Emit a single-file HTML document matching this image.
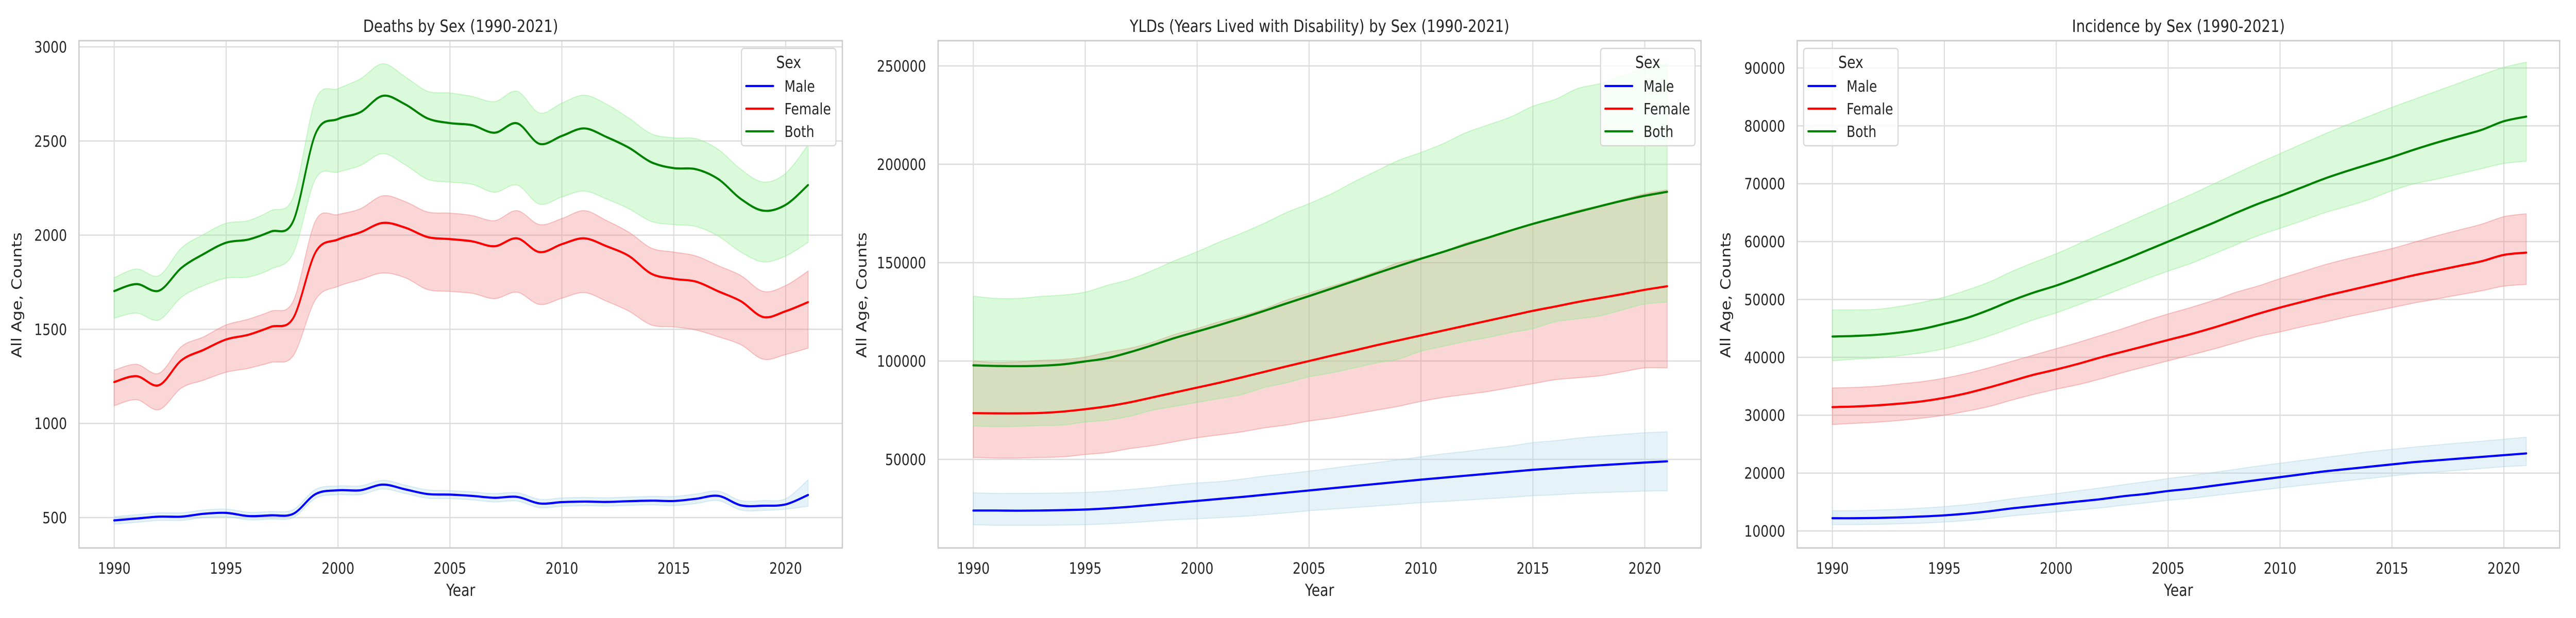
<!DOCTYPE html>
<html><head><meta charset="utf-8"><style>
html,body{margin:0;padding:0;background:#fff;width:100%;height:100%;overflow:hidden;}
svg{display:block;width:100vw;height:100vh;font-family:"DejaVu Sans","Liberation Sans",sans-serif;}
</style></head><body>
<svg id="chart" viewBox="0 0 6000 1200" preserveAspectRatio="none" xmlns="http://www.w3.org/2000/svg"></svg>
<script>
const years = [1990,1991,1992,1993,1994,1995,1996,1997,1998,1999,2000,2001,2002,2003,2004,2005,2006,2007,2008,2009,2010,2011,2012,2013,2014,2015,2016,2017,2018,2019,2020,2021];
const xTicks = [1990,1995,2000,2005,2010,2015,2020];
const seriesNames = ["Male","Female","Both"];

// Deaths
const deathsYTicks = [500,1000,1500,2000,2500,3000];
const deathsMale = [485,495,505,505,520,525,508,512,520,625,645,645,675,650,625,622,615,605,610,575,582,585,583,587,590,588,600,615,565,563,570,620];
const deathsMaleUp = [505,515,525,525,540,545,528,532,542,650,668,668,698,672,647,643,636,627,632,597,604,607,605,609,612,612,625,640,590,590,600,700];
const deathsMaleLo = [465,475,485,485,500,505,488,492,500,603,622,622,652,628,603,601,594,583,588,553,560,563,561,565,568,564,575,590,540,538,545,560];
const deathsFemale = [1220,1251,1203,1335,1391,1446,1471,1513,1560,1910,1977,2015,2065,2040,1990,1979,1967,1941,1983,1910,1952,1983,1941,1889,1795,1768,1753,1701,1649,1565,1596,1644];
const deathsFemaleUp = [1283,1314,1266,1408,1460,1523,1554,1596,1650,2077,2109,2140,2209,2178,2123,2117,2104,2077,2130,2056,2088,2130,2077,2015,1931,1910,1889,1837,1785,1701,1732,1809];
const deathsFemaleLo = [1094,1126,1073,1188,1230,1272,1293,1324,1360,1659,1728,1764,1799,1774,1711,1701,1691,1663,1697,1632,1665,1695,1649,1596,1523,1513,1496,1460,1418,1341,1366,1400];
const deathsBoth = [1703,1740,1705,1826,1900,1960,1977,2019,2075,2540,2617,2653,2740,2695,2620,2595,2584,2544,2594,2485,2527,2567,2521,2464,2387,2356,2350,2297,2192,2130,2161,2266];
const deathsBothUp = [1774,1820,1785,1931,2004,2063,2077,2130,2203,2720,2778,2830,2910,2841,2764,2755,2736,2709,2764,2649,2701,2743,2695,2621,2538,2517,2512,2454,2349,2282,2328,2479];
const deathsBothLo = [1559,1586,1550,1670,1732,1772,1778,1820,1905,2300,2335,2370,2433,2374,2297,2282,2270,2228,2266,2165,2203,2234,2192,2140,2073,2056,2046,1994,1910,1858,1889,1962];

// YLDs
const yldYTicks = [50000,100000,150000,200000,250000];
const yldMale = [24000,24000,23900,24000,24200,24500,25100,25900,26900,27900,28900,29900,30900,32000,33100,34200,35300,36400,37500,38600,39700,40700,41700,42700,43700,44700,45500,46300,47000,47700,48400,49000];
const yldMaleUp = [33000,32700,32700,32800,32900,33200,33800,34700,35700,37000,38000,38700,40000,41500,42700,44000,45500,47000,48300,49800,51300,52800,54000,55500,56800,58500,59500,60800,61800,62700,63500,64000];
const yldMaleLo = [16800,16500,16500,16500,16600,16800,17200,17800,18600,19300,19800,20400,21000,21900,22800,23900,24700,25500,26300,27100,28000,28600,29300,30000,30700,31500,32000,32700,33100,33500,33900,34000];
const yldFemale = [73500,73400,73400,73600,74300,75500,77000,79000,81500,84000,86500,89000,91700,94500,97300,100000,102700,105300,108000,110500,113000,115500,118000,120500,123000,125500,127700,130000,132000,134000,136200,138000];
const yldFemaleUp = [100000,99200,99500,100300,100800,102000,104500,106500,109500,113500,116500,120000,123000,126500,131000,134500,138000,141500,145500,150000,152500,155500,160000,163000,166500,170000,173000,176500,179000,182000,185000,187000];
const yldFemaleLo = [51000,50700,50700,51000,51300,52500,53500,55500,57000,59000,61000,62500,64000,66000,67500,69500,71000,73000,75000,77000,79500,81500,83000,84500,86500,88500,90500,91500,92500,94500,96500,96500];
const yldBoth = [97800,97500,97400,97600,98300,99800,101500,104500,108000,111700,115000,118300,121800,125500,129300,133000,136800,140600,144500,148300,152000,155500,159200,162700,166300,169700,172800,175800,178700,181500,184000,186000];
const yldBothUp = [133000,131800,131800,132800,133500,135000,138500,141500,146000,151000,155500,160500,165000,170000,175500,180000,185000,191000,196500,202000,206000,210500,216000,220000,224000,229500,233000,238500,241000,245000,248500,251000];
const yldBothLo = [67000,66700,66800,67200,67500,69000,70000,72000,75000,77000,79000,81000,83000,86500,89000,92000,94000,96500,99000,101000,105000,107500,110000,112000,114500,116500,120000,121500,123000,126000,129000,130000];

// Incidence
const incYTicks = [10000,20000,30000,40000,50000,60000,70000,80000,90000];
const incMale = [12200,12200,12250,12350,12500,12700,13000,13400,13900,14300,14700,15100,15500,16000,16400,16900,17300,17800,18300,18800,19300,19800,20300,20700,21100,21500,21900,22200,22500,22800,23100,23400];
const incMaleUp = [13500,13500,13600,13750,13950,14200,14550,15000,15550,16000,16450,16950,17450,18000,18500,19050,19550,20100,20650,21200,21700,22200,22700,23200,23700,24100,24500,24850,25200,25500,25850,26200];
const incMaleLo = [11100,11100,11150,11250,11350,11550,11800,12150,12600,12950,13300,13650,14000,14450,14850,15300,15650,16100,16550,17000,17450,17900,18300,18700,19100,19500,19900,20200,20500,20800,21100,21300];
const incFemale = [31400,31500,31700,32000,32400,33000,33800,34800,35900,37000,37900,38900,40000,41000,42000,43000,44000,45100,46300,47500,48600,49600,50600,51500,52400,53300,54200,55000,55800,56600,57700,58100];
const incFemaleUp = [34700,34800,35000,35400,35800,36400,37200,38200,39300,40400,41500,42600,43800,45000,46300,47500,48600,49800,51200,52300,53600,54800,56000,57000,57900,58800,59900,61000,62000,63000,64300,64800];
const incFemaleLo = [28400,28600,28800,29100,29500,30000,30700,31500,32600,33600,34500,35300,36300,37400,38400,39400,40400,41400,42500,43600,44400,45300,46100,47000,47800,48600,49400,50100,50800,51500,52300,52600];
const incBoth = [43600,43700,43900,44300,44900,45800,46800,48200,49800,51200,52400,53800,55300,56800,58400,60000,61600,63200,64900,66500,67900,69400,70900,72200,73400,74600,75900,77100,78200,79300,80800,81600];
const incBothUp = [48200,48200,48300,48800,49500,50400,51600,53000,54800,56400,57900,59600,61300,63000,64700,66400,68100,69900,71700,73500,75200,76900,78600,80200,81700,83200,84600,86000,87400,88800,90100,91000];
const incBothLo = [39400,39700,39900,40300,40800,41500,42500,43700,45100,46500,47700,49100,50500,52000,53500,54900,56200,57800,59400,61000,62300,63600,65000,66100,67300,68800,70000,70800,71700,72600,73500,73900];

const NS = "http://www.w3.org/2000/svg";
const svg = document.getElementById("chart");
function mk(tag, attrs, parent) {
  const e = document.createElementNS(NS, tag);
  for (const k in attrs) e.setAttribute(k, attrs[k]);
  (parent || svg).appendChild(e);
  return e;
}
function curveSegs(pts) {
  let d = "";
  for (let i = 0; i < pts.length - 1; i++) {
    const p0 = pts[Math.max(0, i - 1)], p1 = pts[i], p2 = pts[i + 1], p3 = pts[Math.min(pts.length - 1, i + 2)];
    const c1x = p1[0] + (p2[0] - p0[0]) / 6, c1y = p1[1] + (p2[1] - p0[1]) / 6;
    const c2x = p2[0] - (p3[0] - p1[0]) / 6, c2y = p2[1] - (p3[1] - p1[1]) / 6;
    d += "C" + c1x.toFixed(2) + "," + c1y.toFixed(2) + " " + c2x.toFixed(2) + "," + c2y.toFixed(2) + " " + p2[0].toFixed(2) + "," + p2[1].toFixed(2);
  }
  return d;
}
function smooth(pts) {
  return "M" + pts[0][0].toFixed(2) + "," + pts[0][1].toFixed(2) + curveSegs(pts);
}
const lineColors = ["#0000ff", "#ff0000", "#008000"];
const fillColors = ["#add8e6", "#f08080", "#90ee90"];

function panel(p) {
  const g = mk("g", {});
  
  
  const X = v => p.x0 + (v - 1990) * (p.x1 - p.x0) / 30;
  const Y = v => p.yA + (v - p.vA) * (p.yB - p.yA) / (p.vB - p.vA);
  const grid = mk("g", {}, g);
  
  
  xTicks.forEach(t => { mk("line", {x1: X(t), x2: X(t), y1: p.top, y2: p.bottom, stroke: "#dcdcdc", "stroke-width": 2.5}, grid); });
  p.yTicks.forEach(t => { mk("line", {x1: p.left, x2: p.right, y1: Y(t), y2: Y(t), stroke: "#dcdcdc", "stroke-width": 2.5}, grid); });
  p.series.forEach((s, i) => {
    const up = years.map((yr, k) => [X(yr), Y(s.up[k])]);
    const lo = years.map((yr, k) => [X(yr), Y(s.lo[k])]).reverse();
    const d = smooth(up) + "L" + lo[0][0].toFixed(2) + "," + lo[0][1].toFixed(2) + curveSegs(lo) + "Z";
    const band = mk("path", {d: d, fill: fillColors[i], "fill-opacity": 0.32, stroke: fillColors[i], "stroke-opacity": 0.45, "stroke-width": 2}, g);
    
    
  });
  p.series.forEach((s, i) => {
    const pts = years.map((yr, k) => [X(yr), Y(s.v[k])]);
    const ln = mk("path", {d: smooth(pts), fill: "none", stroke: lineColors[i], "stroke-width": 4.2, "stroke-linecap": "round"}, g);
    
    
  });
  const sp = mk("rect", {x: p.left, y: p.top, width: p.right - p.left, height: p.bottom - p.top, fill: "none", stroke: "#cccccc", "stroke-width": 3}, g);
  
  
  xTicks.forEach(t => {
    const tx = mk("text", {x: X(t), y: 1114, "text-anchor": "middle", "font-size": 30, fill: "#262626"}, g);
    tx.textContent = t;
    
    
  });
  p.yTicks.forEach(t => {
    const tx = mk("text", {x: p.left - 28, y: Y(t) + 11, "text-anchor": "end", "font-size": 30, fill: "#262626"}, g);
    tx.textContent = t;
    
    
  });
  const tt = mk("text", {x: (p.left + p.right) / 2, y: 62, "text-anchor": "middle", "font-size": 33, fill: "#262626"}, g);
  tt.textContent = p.title;
  
  
  const xl = mk("text", {x: (p.left + p.right) / 2, y: 1157, "text-anchor": "middle", "font-size": 32, fill: "#262626"}, g);
  xl.textContent = "Year";
  
  
  const yl = mk("text", {x: 0, y: 0, "text-anchor": "middle", "font-size": 32, fill: "#262626", transform: "translate(" + p.ylx + ",573) rotate(-90)"}, g);
  yl.textContent = "All Age, Counts";
  
  
  const lg = mk("g", {}, g);
  
  
  const lx = p.legX;
  mk("rect", {x: lx, y: 94, width: 220, height: 189, rx: 6, fill: "#ffffff", "fill-opacity": 0.8, stroke: "#d6d6d6", "stroke-width": 2.5}, lg);
  const lt = mk("text", {x: lx + 110, y: 132, "text-anchor": "middle", "font-size": 32, fill: "#262626"}, lg);
  lt.textContent = "Sex";
  
  
  seriesNames.forEach((n, i) => {
    const cy = 167 + i * 44;
    const e = mk("g", {}, lg);
    
    
    mk("line", {x1: lx + 11, x2: lx + 74, y1: cy, y2: cy, stroke: lineColors[i], "stroke-width": 4.2, "stroke-linecap": "round"}, e);
    const t = mk("text", {x: lx + 100, y: cy + 11, "font-size": 30, fill: "#262626"}, e);
    t.textContent = n;
  });
}

panel({name: "deaths-panel", title: "Deaths by Sex (1990-2021)", left: 184, right: 1962, top: 79, bottom: 1064,
  x0: 266, x1: 1830, vA: 500, yA: 1005, vB: 3000, yB: 91, ylx: 50, legX: 1727, yTicks: deathsYTicks,
  series: [{v: deathsMale, up: deathsMaleUp, lo: deathsMaleLo}, {v: deathsFemale, up: deathsFemaleUp, lo: deathsFemaleLo}, {v: deathsBoth, up: deathsBothUp, lo: deathsBothLo}]});
panel({name: "ylds-panel", title: "YLDs (Years Lived with Disability) by Sex (1990-2021)", left: 2185, right: 3962, top: 79, bottom: 1064,
  x0: 2267, x1: 3831, vA: 50000, yA: 892, vB: 250000, yB: 128, ylx: 2018, legX: 3728, yTicks: yldYTicks,
  series: [{v: yldMale, up: yldMaleUp, lo: yldMaleLo}, {v: yldFemale, up: yldFemaleUp, lo: yldFemaleLo}, {v: yldBoth, up: yldBothUp, lo: yldBothLo}]});
panel({name: "incidence-panel", title: "Incidence by Sex (1990-2021)", left: 4186, right: 5962, top: 79, bottom: 1064,
  x0: 4268, x1: 5832, vA: 10000, yA: 1031, vB: 90000, yB: 132, ylx: 4030, legX: 4201, yTicks: incYTicks,
  series: [{v: incMale, up: incMaleUp, lo: incMaleLo}, {v: incFemale, up: incFemaleUp, lo: incFemaleLo}, {v: incBoth, up: incBothUp, lo: incBothLo}]});
</script>
</body></html>
